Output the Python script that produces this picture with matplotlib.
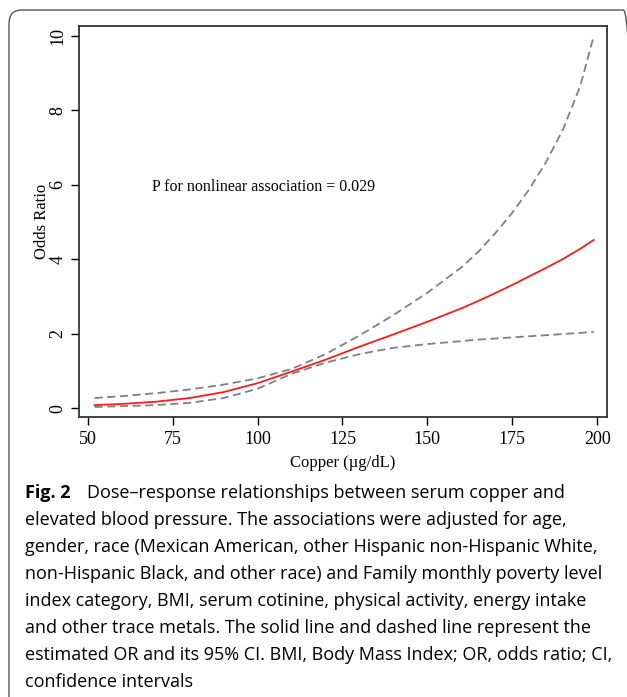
import matplotlib.pyplot as plt
from matplotlib.patches import FancyBboxPatch

copper = [52, 60, 70, 80, 90, 100, 110, 120, 130, 140, 150, 160, 165, 170, 175, 180, 185, 190, 195, 199]
odds = [0.08, 0.11, 0.17, 0.27, 0.43, 0.67, 0.98, 1.30, 1.65, 1.98, 2.32, 2.68, 2.88, 3.09, 3.31, 3.54, 3.77, 4.01, 4.28, 4.52]
upper = [0.27, 0.32, 0.40, 0.50, 0.63, 0.80, 1.05, 1.45, 1.95, 2.50, 3.10, 3.78, 4.20, 4.70, 5.25, 5.88, 6.62, 7.50, 8.65, 10.0]
lower = [0.03, 0.05, 0.08, 0.14, 0.27, 0.52, 0.92, 1.22, 1.45, 1.62, 1.72, 1.80, 1.84, 1.87, 1.90, 1.93, 1.96, 1.99, 2.02, 2.05]
xticks = [50, 75, 100, 125, 150, 175, 200]
yticks = [0, 2, 4, 6, 8, 10]

caption = [
    "elevated blood pressure. The associations were adjusted for age,",
    "gender, race (Mexican American, other Hispanic non-Hispanic White,",
    "non-Hispanic Black, and other race) and Family monthly poverty level",
    "index category, BMI, serum cotinine, physical activity, energy intake",
    "and other trace metals. The solid line and dashed line represent the",
    "estimated OR and its 95% CI. BMI, Body Mass Index; OR, odds ratio; CI,",
    "confidence intervals",
]

W, H = 627, 697
fig = plt.figure(figsize=(W / 100, H / 100), dpi=100)

# rounded frame around the figure panel
box = FancyBboxPatch((9 / W, -0.05), 1.0, 1 - 10 / H + 0.05,
                     boxstyle="round,pad=0,rounding_size=0.02",
                     transform=fig.transFigure, fill=False,
                     edgecolor='#555555', linewidth=1.0, clip_on=False)
fig.patches.append(box)

ax = fig.add_axes([79 / W, 1 - 417 / H, (607 - 79) / W, (417 - 26) / H])
serif = 'Liberation Serif'

dash = (0, (4.5, 2.5))
ax.plot(copper, upper, color='#808080', linestyle=dash, linewidth=1.3)
ax.plot(copper, lower, color='#808080', linestyle=dash, linewidth=1.3)
ax.plot(copper, odds, color='#ff1a1a', linewidth=1.3)

ax.set_xlim(47.4, 202.9)
ax.set_ylim(-0.24, 10.27)
ax.set_xticks(xticks)
ax.set_yticks(yticks)
ax.set_xticklabels([str(t) for t in xticks], family=serif, fontsize=13)
ax.set_yticklabels([str(t) for t in yticks], family=serif, fontsize=13,
                   rotation=90, va='center')
ax.tick_params(axis='x', direction='out', length=6, width=1, pad=4)
ax.tick_params(axis='y', direction='out', length=6, width=1, pad=3)
for s in ax.spines.values():
    s.set_linewidth(1.3)
    s.set_color('#333333')

ax.set_xlabel('Copper (µg/dL)', family=serif, fontsize=12, labelpad=5)
ax.set_ylabel('Odds Ratio', family=serif, fontsize=12, labelpad=0)
ax.text(69, 5.95, 'P for nonlinear association = 0.029', family=serif,
        fontsize=11.5, va='center')

# caption
cap_font = 'Open Sans'
fig.text(25 / W, 1 - 493 / H, 'Fig. 2', family=cap_font, fontweight='bold',
         fontsize=13, va='center')
fig.text(87 / W, 1 - 493 / H, 'Dose\u2013response relationships between serum copper and',
         family=cap_font, fontsize=13, va='center')
for i, line in enumerate(caption):
    fig.text(25 / W, 1 - (520 + 27 * i) / H, line, family=cap_font,
             fontsize=13, va='center')

fig.savefig('out.png', dpi=100)
